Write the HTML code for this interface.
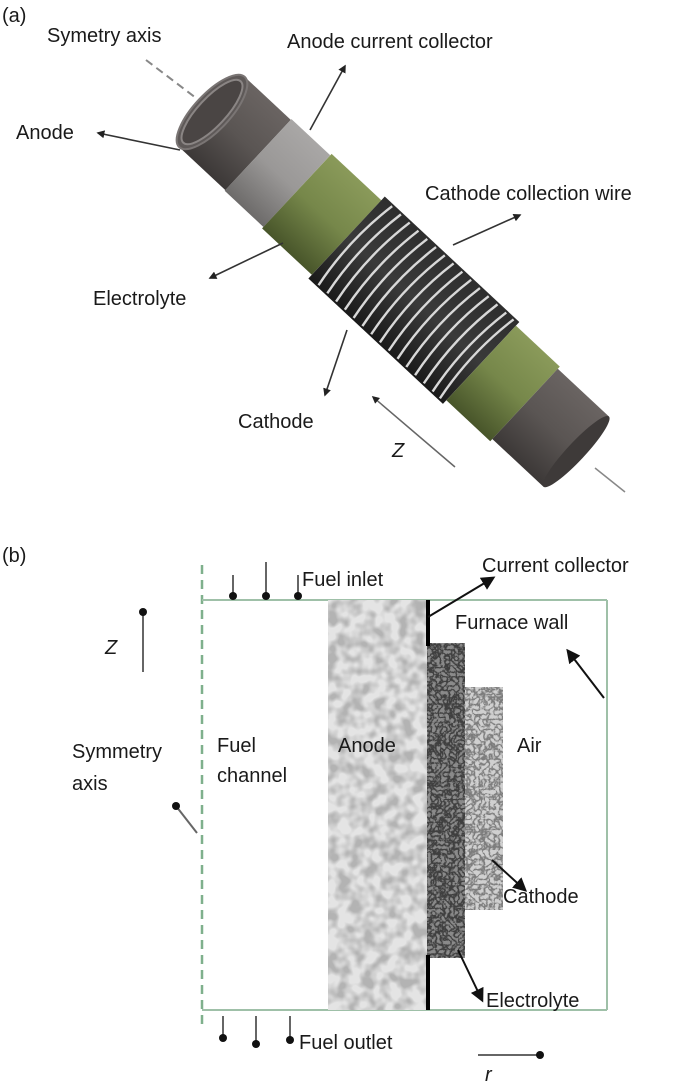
<!DOCTYPE html>
<html><head><meta charset="utf-8"><style>
html,body{margin:0;padding:0;background:#fff;}
svg{display:block;}
text{font-family:"Liberation Sans",Arial,sans-serif;fill:#1a1a1a;}
</style></head><body>
<svg width="700" height="1087" viewBox="0 0 700 1087" xmlns="http://www.w3.org/2000/svg">
<defs>
<marker id="ah" viewBox="0 0 10 10" refX="8" refY="5" markerWidth="5" markerHeight="5" orient="auto"><path d="M0,0 L10,5 L0,10 z" fill="#222"/></marker>
<marker id="ahb" viewBox="0 0 10 10" refX="8" refY="5" markerWidth="7" markerHeight="7" orient="auto"><path d="M0,0 L10,5 L0,10 z" fill="#111"/></marker>
<marker id="dot" viewBox="0 0 10 10" refX="5" refY="5" markerWidth="4" markerHeight="4"><circle cx="5" cy="5" r="5" fill="#111"/></marker>
<filter id="anodeTex" x="0" y="0" width="100%" height="100%">
<feTurbulence type="fractalNoise" baseFrequency="0.08" numOctaves="2" seed="3"/>
<feColorMatrix type="matrix" values="0 0 0 0 0.45  0 0 0 0 0.45  0 0 0 0 0.45  0 0 0 -3 1.9"/>
</filter>
<filter id="elTex" x="0" y="0" width="100%" height="100%">
<feTurbulence type="turbulence" baseFrequency="0.22" numOctaves="2" seed="7"/>
<feColorMatrix type="matrix" values="0 0 0 0 0.05  0 0 0 0 0.05  0 0 0 0 0.05  0 0 0 -4 1.6"/>
</filter>
<filter id="caTex" x="0" y="0" width="100%" height="100%">
<feTurbulence type="turbulence" baseFrequency="0.2" numOctaves="2" seed="11"/>
<feColorMatrix type="matrix" values="0 0 0 0 0.2  0 0 0 0 0.2  0 0 0 0 0.2  0 0 0 -4 1.4"/>
</filter>
<linearGradient id="gDark" x1="0" y1="0" x2="0" y2="1"><stop offset="0" stop-color="#6a6462"/><stop offset="0.5" stop-color="#5a5553"/><stop offset="1" stop-color="#3c3837"/></linearGradient>
<linearGradient id="gGray" x1="0" y1="0" x2="0" y2="1"><stop offset="0" stop-color="#a9a7a6"/><stop offset="0.5" stop-color="#9a9897"/><stop offset="1" stop-color="#6d6b6a"/></linearGradient>
<linearGradient id="gGreen" x1="0" y1="0" x2="0" y2="1"><stop offset="0" stop-color="#8a9a5a"/><stop offset="0.5" stop-color="#76874a"/><stop offset="1" stop-color="#48552a"/></linearGradient>
<linearGradient id="gWire" x1="0" y1="0" x2="0" y2="1"><stop offset="0" stop-color="#2e2e2e"/><stop offset="0.5" stop-color="#3a3a3a"/><stop offset="1" stop-color="#1a1a1a"/></linearGradient>
</defs>

<!-- (a) -->
<text x="2" y="22" font-size="20">(a)</text>
<text x="47" y="42" font-size="20">Symetry axis</text>
<text x="287" y="48" font-size="20">Anode current collector</text>
<text x="16" y="139" font-size="20">Anode</text>
<text x="425" y="200" font-size="20">Cathode collection wire</text>
<text x="93" y="305" font-size="20">Electrolyte</text>
<text x="238" y="428" font-size="20">Cathode</text>
<text x="392" y="457" font-size="20" font-style="italic">Z</text>

<line x1="146" y1="60" x2="196" y2="98" stroke="#888" stroke-width="2" stroke-dasharray="8,5"/>
<line x1="595" y1="468" x2="625" y2="492" stroke="#888" stroke-width="1.5"/>

<g transform="translate(212,112) rotate(43)">
  <rect x="0" y="-48" width="63" height="96" fill="url(#gDark)"/>
  <rect x="63" y="-49" width="53" height="98" fill="url(#gGray)"/>
  <rect x="116" y="-51" width="68" height="102" fill="url(#gGreen)"/>
  <rect x="184" y="-56" width="184" height="112" fill="url(#gWire)"/>
  <g stroke="#d8d8d8" stroke-width="2.4" fill="none">
    <path d="M196,-54 q-9,54 0,108"/><path d="M208,-54 q-9,54 0,108"/><path d="M220,-54 q-9,54 0,108"/>
    <path d="M232,-54 q-9,54 0,108"/><path d="M244,-54 q-9,54 0,108"/><path d="M256,-54 q-9,54 0,108"/>
    <path d="M268,-54 q-9,54 0,108"/><path d="M280,-54 q-9,54 0,108"/><path d="M292,-54 q-9,54 0,108"/>
    <path d="M304,-54 q-9,54 0,108"/><path d="M316,-54 q-9,54 0,108"/><path d="M328,-54 q-9,54 0,108"/>
    <path d="M340,-54 q-9,54 0,108"/><path d="M352,-54 q-9,54 0,108"/><path d="M362,-54 q-9,54 0,108"/>
  </g>
  <rect x="368" y="-51" width="60" height="102" fill="url(#gGreen)"/>
  <rect x="428" y="-48" width="70" height="96" fill="url(#gDark)"/>
  <ellipse cx="498" cy="0" rx="9" ry="48" fill="#3e3a39"/>
  <ellipse cx="0" cy="0" rx="18" ry="48" fill="#5e5958" stroke="#7a7574" stroke-width="2"/>
  <ellipse cx="0" cy="0" rx="14" ry="42" fill="#4a4544" stroke="#8a8584" stroke-width="2"/>
</g>

<!-- arrows (a) -->
<line x1="180" y1="150" x2="98" y2="133" stroke="#333" stroke-width="1.6" marker-end="url(#ah)"/>
<line x1="310" y1="130" x2="345" y2="66" stroke="#333" stroke-width="1.6" marker-end="url(#ah)"/>
<line x1="283" y1="243" x2="210" y2="278" stroke="#333" stroke-width="1.6" marker-end="url(#ah)"/>
<line x1="453" y1="245" x2="520" y2="215" stroke="#333" stroke-width="1.6" marker-end="url(#ah)"/>
<line x1="347" y1="330" x2="325" y2="395" stroke="#333" stroke-width="1.6" marker-end="url(#ah)"/>
<line x1="455" y1="467" x2="373" y2="397" stroke="#666" stroke-width="1.5" marker-end="url(#ah)"/>

<!-- (b) -->
<text x="2" y="562" font-size="20">(b)</text>
<line x1="202" y1="565" x2="202" y2="1030" stroke="#7fb08c" stroke-width="2.5" stroke-dasharray="9,6"/>
<line x1="202" y1="600" x2="607" y2="600" stroke="#9fc0a8" stroke-width="2"/>
<line x1="202" y1="1010" x2="607" y2="1010" stroke="#9fc0a8" stroke-width="2"/>
<line x1="607" y1="600" x2="607" y2="1010" stroke="#9fc0a8" stroke-width="2"/>

<rect x="328" y="600" width="99" height="410" fill="#e4e4e4"/>
<rect x="328" y="600" width="99" height="410" filter="url(#anodeTex)"/>
<rect x="427" y="643" width="38" height="315" fill="#8a8a8a"/>
<rect x="427" y="643" width="38" height="315" filter="url(#elTex)"/>
<rect x="465" y="687" width="38" height="223" fill="#d0d0d0"/>
<rect x="465" y="687" width="38" height="223" filter="url(#caTex)"/>
<line x1="428" y1="600" x2="428" y2="646" stroke="#000" stroke-width="4"/>
<line x1="428" y1="955" x2="428" y2="1010" stroke="#000" stroke-width="4"/>

<g stroke="#666" stroke-width="2">
<line x1="233" y1="575" x2="233" y2="596" marker-end="url(#dot)"/>
<line x1="266" y1="562" x2="266" y2="596" marker-end="url(#dot)"/>
<line x1="298" y1="575" x2="298" y2="596" marker-end="url(#dot)"/>
<line x1="223" y1="1016" x2="223" y2="1038" marker-end="url(#dot)"/>
<line x1="256" y1="1016" x2="256" y2="1044" marker-end="url(#dot)"/>
<line x1="290" y1="1016" x2="290" y2="1040" marker-end="url(#dot)"/>
<line x1="143" y1="672" x2="143" y2="612" marker-end="url(#dot)"/>
<line x1="197" y1="833" x2="176" y2="806" marker-end="url(#dot)"/>
<line x1="478" y1="1055" x2="540" y2="1055" marker-end="url(#dot)"/>
</g>

<line x1="428" y1="617" x2="493" y2="578" stroke="#111" stroke-width="2" marker-end="url(#ahb)"/>
<line x1="604" y1="698" x2="568" y2="651" stroke="#111" stroke-width="2" marker-end="url(#ahb)"/>
<line x1="492" y1="860" x2="525" y2="890" stroke="#111" stroke-width="2" marker-end="url(#ahb)"/>
<line x1="458" y1="950" x2="482" y2="1000" stroke="#111" stroke-width="2" marker-end="url(#ahb)"/>

<text x="302" y="586" font-size="20">Fuel inlet</text>
<text x="482" y="572" font-size="20">Current collector</text>
<text x="455" y="629" font-size="20">Furnace wall</text>
<text x="105" y="654" font-size="20" font-style="italic">Z</text>
<text x="72" y="758" font-size="20">Symmetry</text>
<text x="72" y="790" font-size="20">axis</text>
<text x="217" y="752" font-size="20">Fuel</text>
<text x="217" y="782" font-size="20">channel</text>
<text x="338" y="752" font-size="20">Anode</text>
<text x="517" y="752" font-size="20">Air</text>
<text x="503" y="903" font-size="20">Cathode</text>
<text x="486" y="1007" font-size="20">Electrolyte</text>
<text x="299" y="1049" font-size="20">Fuel outlet</text>
<text x="485" y="1081" font-size="20" font-style="italic">r</text>
</svg>
</body></html>
